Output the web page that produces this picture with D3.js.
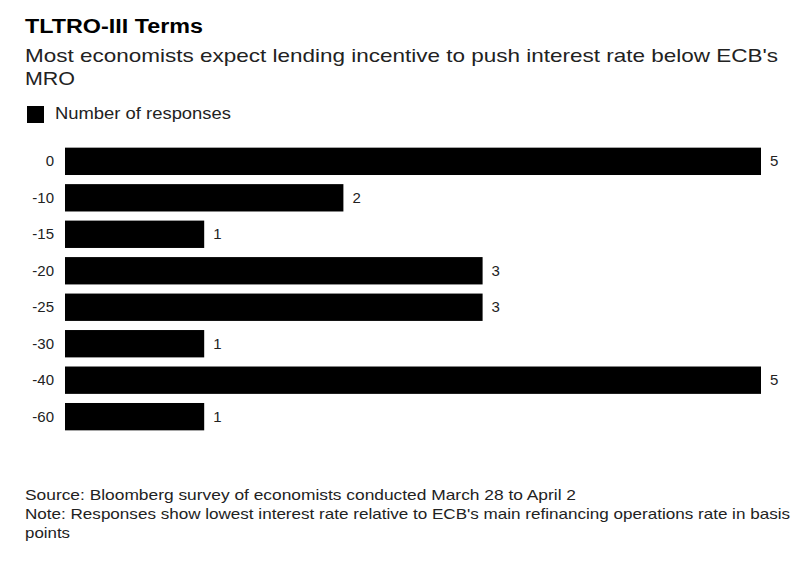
<!DOCTYPE html><html><head><meta charset="utf-8"><script src="https://cdn.jsdelivr.net/npm/d3@7"></script>
<style>body{margin:0;background:#fff}text{font-family:Arial,"Liberation Sans",sans-serif}</style></head><body><svg id="c" width="804" height="561"></svg>
<script>
const categories=["0","-10","-15","-20","-25","-30","-40","-60"];
const values=[5,2,1,3,3,1,5,1];
const svg=d3.select("#c");
const x=d3.scaleLinear().domain([0,5]).range([65,761]);
const y=d3.scaleBand().domain(categories).range([144,434]).paddingInner(0.25).paddingOuter(0.1);
function t(xx,yy,s,str,len,extra){const e=svg.append("text").attr("x",xx).attr("y",yy).attr("font-size",s).attr("fill","#222").text(str);if(len)e.attr("textLength",len).attr("lengthAdjust","spacingAndGlyphs");return e;}
t(25,33,20,"TLTRO-III Terms",178).attr("font-weight","bold").attr("fill","#000");
t(25,62,19,"Most economists expect lending incentive to push interest rate below ECB's",753);
t(25,85,19,"MRO",50);
svg.append("rect").attr("x",27).attr("y",106).attr("width",17).attr("height",17).attr("fill","#000");
t(55,119,16,"Number of responses",176);
svg.selectAll(".b").data(values).join("rect").attr("x",x(0)).attr("y",(d,i)=>y(categories[i])).attr("width",d=>x(d)-x(0)).attr("height",y.bandwidth()).attr("fill","#000");
svg.selectAll(".v").data(values).join("text").attr("x",d=>x(d)+9).attr("y",(d,i)=>y(categories[i])+y.bandwidth()/2+5).attr("font-size",15).attr("fill","#222").text(d=>d);
svg.selectAll(".c").data(categories).join("text").attr("x",54).attr("text-anchor","end").attr("y",d=>y(d)+y.bandwidth()/2+5).attr("font-size",15).attr("fill","#222").text(d=>d);
t(25,500,15,"Source: Bloomberg survey of economists conducted March 28 to April 2",551);
t(25,519,15,"Note: Responses show lowest interest rate relative to ECB's main refinancing operations rate in basis",765);
t(25,538,15,"points",45);
</script></body></html>
